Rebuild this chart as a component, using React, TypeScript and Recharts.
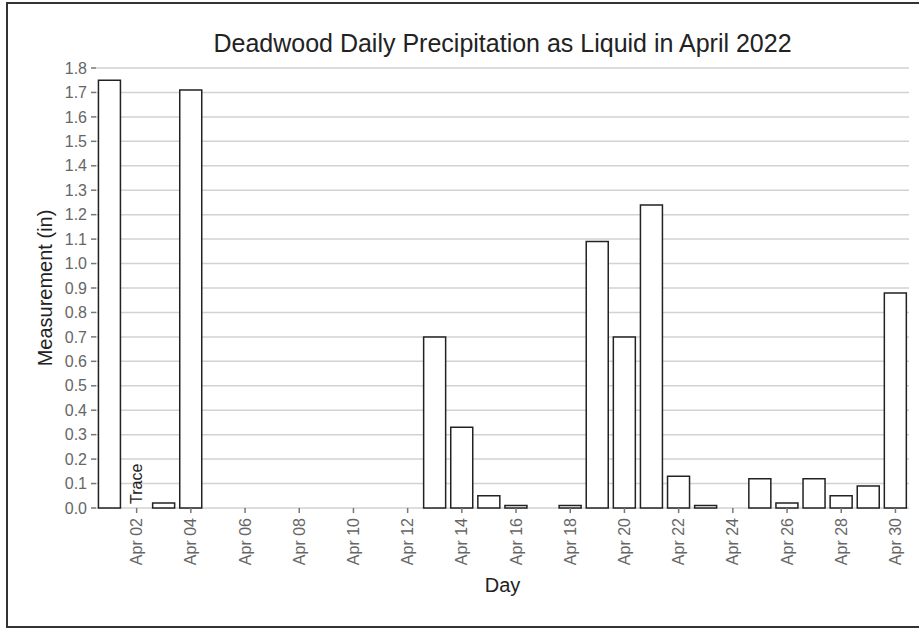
import React from 'react';
import { BarChart, Bar, XAxis, YAxis, CartesianGrid } from 'recharts';

// Deadwood daily liquid precipitation, April 2022 (inches). null = no bar shown
const days = [
  'Apr 01', 'Apr 02', 'Apr 03', 'Apr 04', 'Apr 05', 'Apr 06', 'Apr 07', 'Apr 08', 'Apr 09', 'Apr 10',
  'Apr 11', 'Apr 12', 'Apr 13', 'Apr 14', 'Apr 15', 'Apr 16', 'Apr 17', 'Apr 18', 'Apr 19', 'Apr 20',
  'Apr 21', 'Apr 22', 'Apr 23', 'Apr 24', 'Apr 25', 'Apr 26', 'Apr 27', 'Apr 28', 'Apr 29', 'Apr 30',
];
const precip: (number | null)[] = [
  1.75, 0, 0.02, 1.71, null, null, null, null, null, null,
  null, null, 0.7, 0.33, 0.05, 0.01, null, 0.01, 1.09, 0.7,
  1.24, 0.13, 0.01, null, 0.12, 0.02, 0.12, 0.05, 0.09, 0.88,
];
const notes = ['', 'Trace'];
const xTicks = days.filter((_, i) => i % 2 === 1);
const yTicks = [0, 0.1, 0.2, 0.3, 0.4, 0.5, 0.6, 0.7, 0.8, 0.9, 1.0, 1.1, 1.2, 1.3, 1.4, 1.5, 1.6, 1.7, 1.8];

const data = days.map((day, i) => ({ day, precip: precip[i], note: notes[i] || '' }));

const FONT = '"Liberation Sans", Arial, sans-serif';

// bottom axis tick: every other day labelled, plus the "Trace" note sitting on the baseline
const DayTick = (props: any) => {
  const { x, y, payload, index } = props;
  const note = data[index]?.note;
  const labelled = xTicks.includes(payload.value);
  return (
    <g transform={`translate(${x},${y})`}>
      {labelled && (
        <>
          <line x1={0} y1={0} x2={0} y2={5} stroke="#777" strokeWidth={1.5} />
          <text
            transform="rotate(-90)"
            x={-10}
            y={0}
            dy="0.35em"
            textAnchor="end"
            fill="#666"
            fontSize={16}
            fontFamily={FONT}
          >
            {payload.value}
          </text>
        </>
      )}
      {note && (
        <text
          transform="rotate(-90)"
          x={4}
          y={0}
          dy="0.35em"
          textAnchor="start"
          fill="#222"
          fontSize={16}
          fontFamily={FONT}
        >
          {note}
        </text>
      )}
    </g>
  );
};

export default function App() {
  return (
    <div
      style={{
        position: 'absolute',
        left: 0,
        top: 0,
        width: 919,
        height: 628,
        background: '#fff',
        overflow: 'hidden',
      }}
    >
      <div
        style={{
          position: 'absolute',
          left: 6,
          top: 2,
          width: 930,
          height: 622,
          border: '2px solid #333',
        }}
      />
      <div
        style={{
          position: 'absolute',
          left: 96,
          width: 813,
          top: 29,
          textAlign: 'center',
          fontFamily: FONT,
          fontSize: 25,
          color: '#222',
        }}
      >
        Deadwood Daily Precipitation as Liquid in April 2022
      </div>
      <div style={{ position: 'absolute', left: 0, top: 0 }}>
        <BarChart
          width={919}
          height={628}
          data={data}
          margin={{ top: 68, right: 10, bottom: 0, left: 0 }}
          barCategoryGap="9%"
        >
          <CartesianGrid vertical={false} stroke="#d2d2d2" strokeWidth={1.5} />
          <Bar dataKey="precip" fill="#fff" stroke="#222" strokeWidth={1.5} isAnimationActive={false} />
          <XAxis
            dataKey="day"
            interval={0}
            height={120}
            axisLine={false}
            tickLine={false}
            tickSize={0}
            tickMargin={0}
            tick={<DayTick />}
            label={{
              value: 'Day',
              position: 'insideBottom',
              offset: 36,
              fill: '#222',
              fontSize: 20,
              fontFamily: FONT,
            }}
          />
          <YAxis
            width={96}
            domain={[0, 1.8]}
            ticks={yTicks}
            tickFormatter={(v: number) => v.toFixed(1)}
            axisLine={false}
            tickSize={5}
            tickMargin={4}
            tickLine={{ stroke: '#777', strokeWidth: 1.5 }}
            tick={{ fill: '#666', fontSize: 16, fontFamily: FONT }}
            label={(p: any) => {
              const vb = p.viewBox || { x: 0, y: 68, width: 96, height: 440 };
              const cy = vb.y + vb.height / 2;
              return (
                <text
                  transform={`rotate(-90 45 ${cy})`}
                  x={45}
                  y={cy}
                  dy="0.35em"
                  textAnchor="middle"
                  fill="#222"
                  fontSize={20}
                  fontFamily={FONT}
                >
                  Measurement (in)
                </text>
              );
            }}
          />
        </BarChart>
      </div>
    </div>
  );
}
